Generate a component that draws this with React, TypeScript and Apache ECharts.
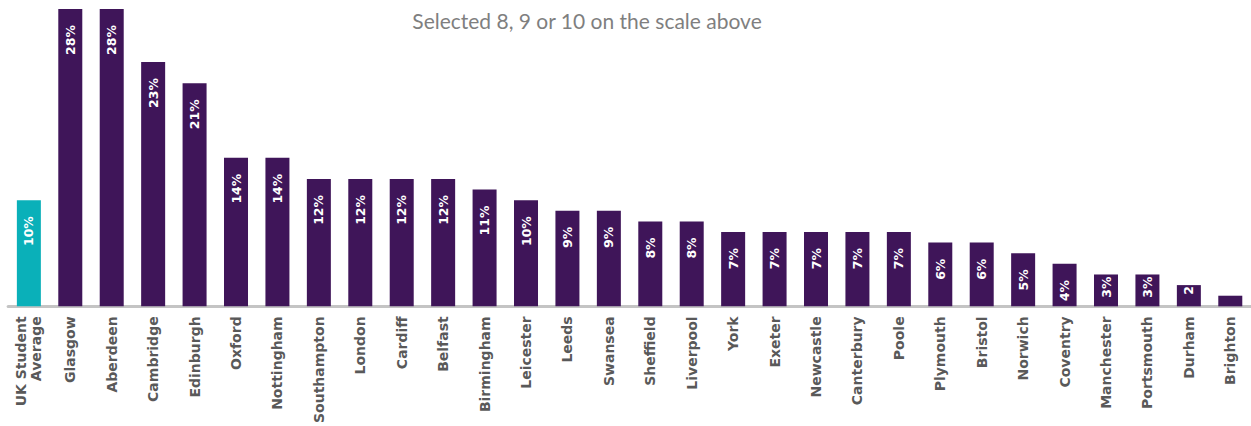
import React, { useEffect, useRef } from "react";
import * as echarts from "echarts";

const title = "Selected 8, 9 or 10 on the scale above";
const categories = [
  "UK Student\nAverage", "Glasgow", "Aberdeen", "Cambridge", "Edinburgh", "Oxford", "Nottingham",
  "Southampton", "London", "Cardiff", "Belfast", "Birmingham", "Leicester", "Leeds", "Swansea",
  "Sheffield", "Liverpool", "York", "Exeter", "Newcastle", "Canterbury", "Poole", "Plymouth",
  "Bristol", "Norwich", "Coventry", "Manchester", "Portsmouth", "Durham", "Brighton",
];
const values = [10, 28, 28, 23, 21, 14, 14, 12, 12, 12, 12, 11, 10, 9, 9, 8, 8, 7, 7, 7, 7, 7, 6, 6, 5, 4, 3, 3, 2, 1];
const highlightIndex = 0;

const TEAL = "#0AB0B9";
const PURPLE = "#3F1559";

export default function App() {
  const ref = useRef<HTMLDivElement>(null);
  useEffect(() => {
    if (!ref.current) return;
    const chart = echarts.init(ref.current, undefined, { renderer: "svg" });
    const data = values.map((v, i) => {
      const item: any = {
        value: v,
        itemStyle: { color: i === highlightIndex ? TEAL : PURPLE },
      };
      if (v <= 1) item.label = { show: false };
      else if (v === 2) item.label = { formatter: "2", position: ["50%", 1] };
      else if (v === 3) item.label = { position: ["50%", 2] };
      return item;
    });
    chart.setOption({
      animation: false,
      title: {
        text: title,
        left: 582,
        top: 5,
        textAlign: "center",
        textStyle: { fontFamily: "Lato", fontSize: 21, fontWeight: "normal", color: "#7f7f7f" },
      },
      grid: { left: 8.15, right: -7.8, top: 9, bottom: 119, containLabel: false },
      xAxis: {
        type: "category",
        data: categories,
        axisLine: { lineStyle: { color: "#c4c4c4", width: 3 } },
        axisTick: { show: false },
        axisLabel: {
          rotate: 90,
          interval: 0,
          margin: 10,
          fontFamily: "DejaVu Sans",
          fontWeight: "bold",
          fontSize: 14,
          color: "#595959",
          lineHeight: 15,
        },
      },
      yAxis: {
        type: "value",
        min: 0,
        max: 28,
        show: false,
        splitLine: { show: false },
      },
      series: [
        {
          type: "bar",
          data,
          barWidth: 24,
          label: {
            show: true,
            position: ["50%", 16],
            rotate: 90,
            align: "right",
            verticalAlign: "middle",
            formatter: (p: any) => `${p.value}%`,
            color: "#ffffff",
            fontFamily: "DejaVu Sans",
            fontWeight: "bold",
            fontSize: 12.5,
          },
        },
      ],
    });
    return () => chart.dispose();
  }, []);
  return (
    <div
      ref={ref}
      style={{ position: "fixed", left: 0, top: 0, width: 1251, height: 426, background: "#fff" }}
    />
  );
}
